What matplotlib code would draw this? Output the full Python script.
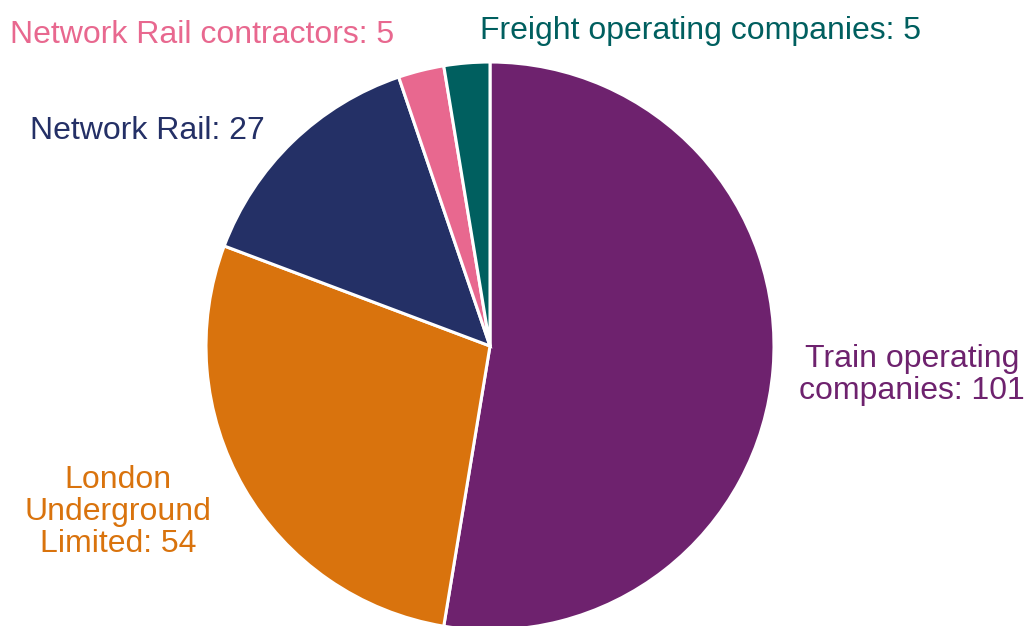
import matplotlib
matplotlib.use("Agg")
import matplotlib.pyplot as plt

plt.rcParams['font.family'] = ['Liberation Sans', 'DejaVu Sans']

categories = ["Train operating\ncompanies", "London\nUnderground\nLimited", "Network Rail",
              "Network Rail contractors", "Freight operating companies"]
values = [101, 54, 27, 5, 5]
colors = ["#6E226E", "#D9730D", "#243066", "#E8688F", "#005F5F"]

W, H = 1027, 626
fig = plt.figure(figsize=(W / 100, H / 100), dpi=100)
cx, cy, r = 490, 346, 284
ax = fig.add_axes([(cx - r) / W, (H - cy - r) / H, 2 * r / W, 2 * r / H])
ax.pie(values, colors=colors, startangle=90, counterclock=False,
       wedgeprops=dict(edgecolor="white", linewidth=2.2))
ax.set_xlim(-1, 1)
ax.set_ylim(-1, 1)
ax.set_aspect("equal")

# label placement (pixels from top-left): x, y, ha
label_pos = [(912, 375, "center"), (118, 512, "center"), (30, 131, "left"),
             (10, 35, "left"), (480, 31, "left")]
for cat, v, c, (x, y, ha) in zip(categories, values, colors, label_pos):
    fig.text(x / W, 1 - y / H, f"{cat}: {v}", color=c, fontsize=23,
             ha=ha, va="center", linespacing=1.1, multialignment="center")

fig.savefig("out.png", dpi=100, facecolor="white")
